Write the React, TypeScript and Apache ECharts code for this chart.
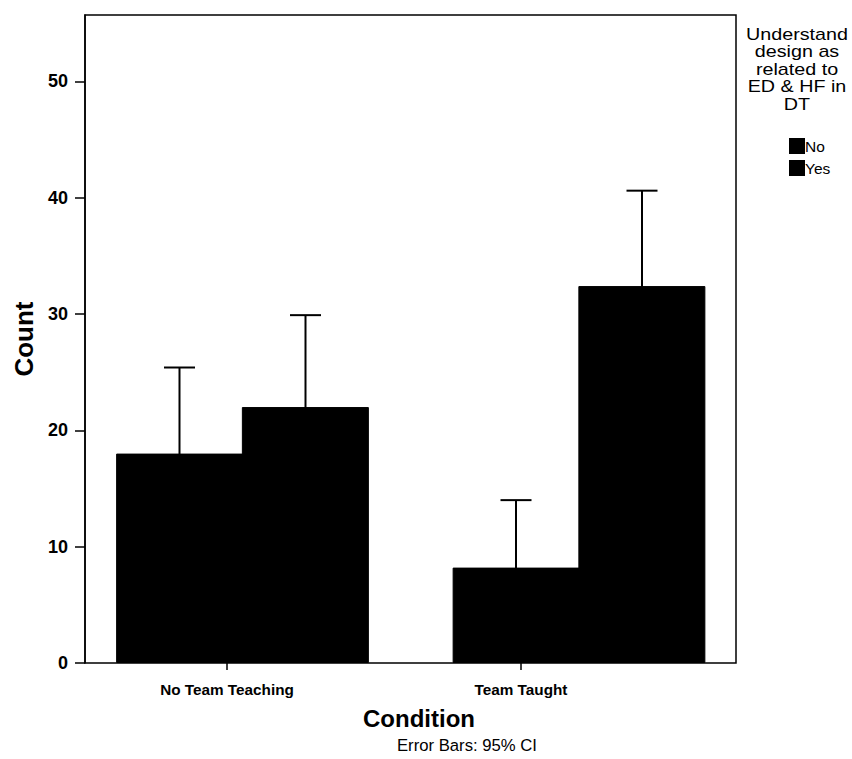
import React, { useEffect, useRef } from "react";
import * as echarts from "echarts";

const categories = ["No Team Teaching", "Team Taught"];
const seriesNames = ["No", "Yes"];
const countNo = [18, 8.2];
const countYes = [22, 32.4];
const ciNoLow = [10.6, 2.4];
const ciNoHigh = [25.4, 14.0];
const ciYesLow = [14.1, 24.3];
const ciYesHigh = [29.9, 40.6];
const yTicks = [0, 10, 20, 30, 40, 50];
const legendTitle = "Understand\ndesign as\nrelated to\nED & HF in\nDT";

const FONT = "'Liberation Sans', Arial, sans-serif";
const BAR_W = 127;
const CAP = 15.5;

function errorSeries(name: string, lows: number[], highs: number[], side: number) {
  return {
    type: "custom",
    name: name + " CI",
    xAxisIndex: 1,
    yAxisIndex: 1,
    z: 5,
    silent: true,
    data: lows.map((lo, i) => [i, lo, highs[i]]),
    renderItem: (params: any, api: any) => {
      const i = api.value(0);
      const pLo = api.coord([i, api.value(1)]);
      const pHi = api.coord([i, api.value(2)]);
      const x = pLo[0] + (side * (BAR_W - 1)) / 2;
      const st = { stroke: "#000", lineWidth: 2 };
      return {
        type: "group",
        children: [
          { type: "line", shape: { x1: x, y1: pLo[1], x2: x, y2: pHi[1] }, style: st },
          { type: "line", shape: { x1: x - CAP, y1: pHi[1], x2: x + CAP, y2: pHi[1] }, style: st },
          { type: "line", shape: { x1: x - CAP, y1: pLo[1], x2: x + CAP, y2: pLo[1] }, style: st },
        ],
      };
    },
  };
}

export default function App() {
  const ref = useRef<HTMLDivElement>(null);
  useEffect(() => {
    if (!ref.current) return;
    const chart = echarts.init(ref.current, null, { renderer: "svg" });
    const yMax = 55.7;
    const barStyle = { color: "#000", borderColor: "#000", borderWidth: 1 };
    chart.setOption({
      animation: false,
      backgroundColor: "#fff",
      textStyle: { fontFamily: FONT },
      grid: [
        { left: 85, width: 651, top: 15, height: 648, show: true, borderColor: "#000", borderWidth: 1.5, backgroundColor: "transparent", z: 1 },
        { left: 74.25, width: 673, top: 15, height: 648 },
        { left: 80, width: 588, top: 15, height: 648 },
      ],
      xAxis: [
        { gridIndex: 0, type: "value", show: false, min: 0, max: 1 },
        { gridIndex: 1, type: "category", data: categories, show: false },
        {
          gridIndex: 2,
          type: "category",
          data: categories,
          axisLine: { show: false },
          axisTick: { show: true, alignWithLabel: true, length: 7, lineStyle: { color: "#000", width: 1.5 } },
          axisLabel: { color: "#000", fontSize: 15.3, fontWeight: "bold", margin: 19, fontFamily: FONT },
        },
      ],
      yAxis: [
        {
          gridIndex: 0,
          type: "value",
          min: 0,
          max: yMax,
          name: "Count",
          nameLocation: "middle",
          nameGap: 47,
          nameTextStyle: { color: "#000", fontSize: 26, fontWeight: "bold", fontFamily: FONT },
          axisLine: { show: true, lineStyle: { color: "#000", width: 1.5 } },
          axisTick: { show: true, length: 10, lineStyle: { color: "#000", width: 1.5 }, customValues: yTicks },
          axisLabel: { color: "#000", fontSize: 18, fontWeight: "bold", margin: 17, customValues: yTicks, fontFamily: FONT },
          splitLine: { show: false },
        },
        { gridIndex: 1, type: "value", min: 0, max: yMax, show: false },
        { gridIndex: 2, type: "value", min: 0, max: yMax, show: false },
      ],
      legend: {
        orient: "vertical",
        left: 784,
        top: 133,
        itemWidth: 14,
        itemHeight: 14,
        itemGap: 6,
        icon: "rect",
        data: seriesNames,
        textStyle: { color: "#000", fontSize: 15.5, padding: [0, 0, 0, -4], fontFamily: FONT },
      },
      graphic: [
        {
          type: "text",
          x: 797,
          y: 25,
          scaleX: 1.16,
          style: { text: legendTitle, fill: "#000", font: `17px ${FONT}`, textAlign: "center", textVerticalAlign: "top", lineHeight: 17.5 },
        },
        {
          type: "text",
          x: 419,
          y: 718,
          style: { text: "Condition", fill: "#000", font: `bold 24px ${FONT}`, textAlign: "center", textVerticalAlign: "middle" },
        },
        {
          type: "text",
          x: 467,
          y: 745,
          style: { text: "Error Bars: 95% CI", fill: "#000", font: `16.7px ${FONT}`, textAlign: "center", textVerticalAlign: "middle" },
        },
      ],
      series: [
        { type: "bar", name: seriesNames[0], xAxisIndex: 1, yAxisIndex: 1, data: countNo, barWidth: BAR_W, barGap: "-1%", itemStyle: barStyle, z: 2 },
        { type: "bar", name: seriesNames[1], xAxisIndex: 1, yAxisIndex: 1, data: countYes, barWidth: BAR_W, barGap: "-1%", itemStyle: barStyle, z: 2 },
        errorSeries(seriesNames[0], ciNoLow, ciNoHigh, -1),
        errorSeries(seriesNames[1], ciYesLow, ciYesHigh, 1),
      ],
    });
    return () => chart.dispose();
  }, []);
  return <div ref={ref} style={{ position: "absolute", left: 0, top: 0, width: 852, height: 759 }} />;
}
